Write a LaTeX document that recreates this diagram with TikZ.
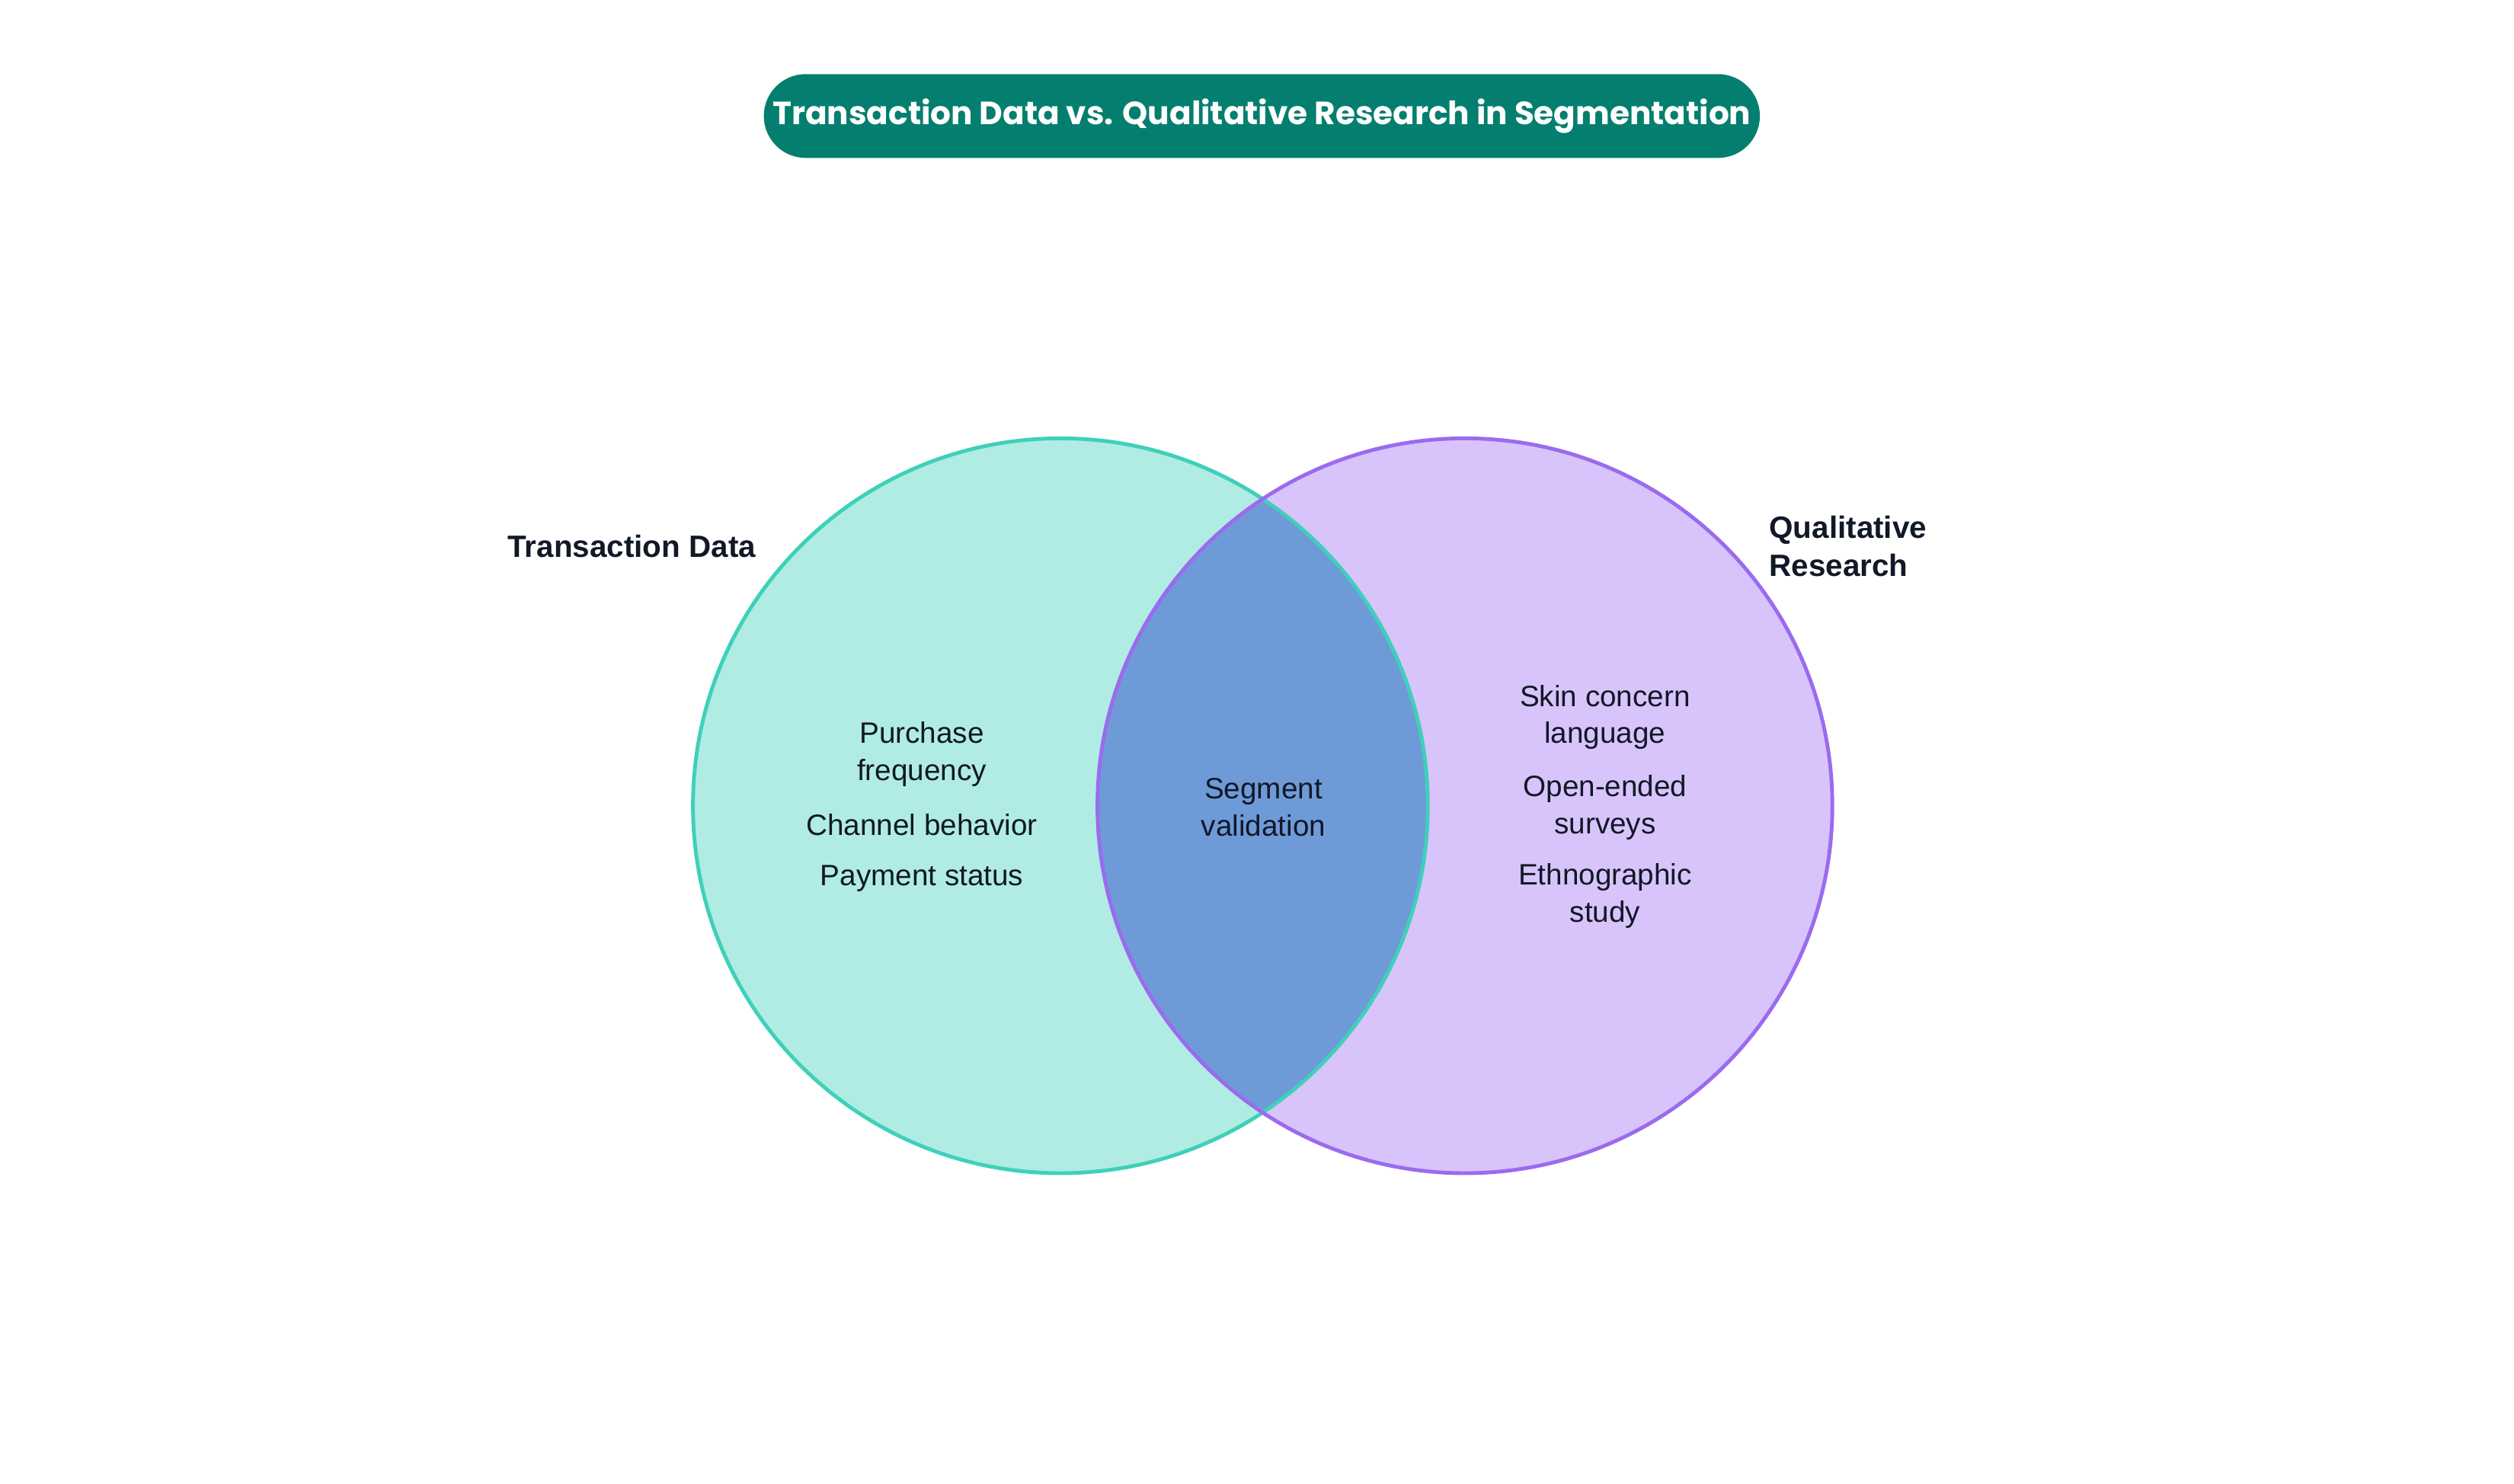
\documentclass[tikz,border=0pt]{standalone}
\usepackage{fontspec}
\setmainfont{Liberation Sans}
\newfontfamily\titlefont{Poppins}
\usetikzlibrary{positioning}
\definecolor{pillteal}{HTML}{047F6F}
\definecolor{tdfill}{HTML}{B0ECE3}
\definecolor{tdline}{HTML}{3FD0BA}
\definecolor{qrfill}{HTML}{D8C4FA}
\definecolor{qrline}{HTML}{9B6BEE}
\definecolor{overlap}{HTML}{6F9AD8}
\definecolor{ink}{HTML}{111827}

\begin{document}
\begin{tikzpicture}[x=0.02115cm,y=-0.02115cm,
    item/.style={align=center,text=ink,font=\fontsize{11}{13.8}\selectfont},
    setlabel/.style={text=ink,font=\bfseries\fontsize{11.5}{14}\selectfont}]
                \useasboundingbox (0,0) rectangle (1560,920.6);
                % title pill
                \node[fill=pillteal,minimum width=13cm,minimum height=1.1cm,
                      rounded corners=0.55cm,text=white,font=\titlefont\bfseries\fontsize{12}{14}\selectfont] (title) at (783,72)
                      {Transaction Data vs. Qualitative Research in Segmentation};

                % circles
                \fill[tdfill] (658,500) circle (228);
                \fill[qrfill] (909,500) circle (228);
                \begin{scope}
                    \clip (658,500) circle (228);
                    \fill[overlap] (909,500) circle (228);
                \end{scope}
                \draw[tdline,line width=1.4pt] (658,500) circle (228);
                \draw[qrline,line width=1.4pt] (909,500) circle (228);

                % set labels
                \node[setlabel] (tdlabel) at (392,339) {Transaction Data};
                \node[setlabel,align=left,anchor=west] (qrlabel) at (1092,339) {Qualitative\\Research};

                % items
                \node[item] (freq) at (572,468) {Purchase\\frequency};
                \node[item] (chan) at (572,512) {Channel behavior};
                \node[item] (pay) at (572,545) {Payment status};
                \node[item] (valid) at (784,501) {Segment\\validation};
                \node[item] (skin) at (996,445) {Skin concern\\language};
                \node[item] (open) at (996,501) {Open-ended\\surveys};
                \node[item] (ethno) at (996,556) {Ethnographic\\study};
            \end{tikzpicture}
\end{document}
